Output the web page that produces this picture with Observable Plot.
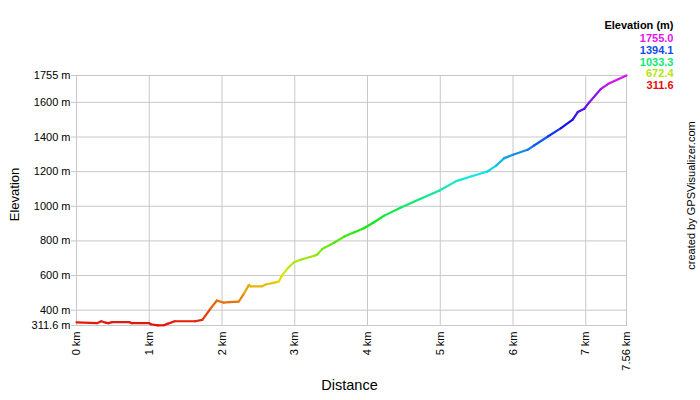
<!DOCTYPE html>
<html><head><meta charset="utf-8">
<script src="https://cdn.jsdelivr.net/npm/d3@7"></script>
<script src="https://cdn.jsdelivr.net/npm/@observablehq/plot@0.6"></script>
<style>body{margin:0;background:#fff}</style>
</head><body><div id="chart"></div>
<script>
const distanceKm = [0.00,0.28,0.34,0.41,0.44,0.49,0.73,0.76,1.00,1.02,1.12,1.20,1.25,1.35,1.63,1.73,1.84,1.93,1.96,2.02,2.10,2.23,2.30,2.37,2.39,2.55,2.61,2.71,2.78,2.83,2.91,2.99,3.08,3.27,3.31,3.38,3.54,3.68,3.82,3.95,4.09,4.23,4.46,4.73,4.99,5.22,5.42,5.65,5.77,5.88,6.00,6.20,6.29,6.48,6.66,6.82,6.89,6.98,7.05,7.21,7.31,7.56];
const elevationM = [330,325,336,327,325,331,331,325,325,319,312,313,321,336,336,344,408,456,452,444,446,450,494,546,538,538,550,558,566,604,645,677,691,714,722,754,789,825,850,873,908,946,993,1043,1091,1145,1172,1201,1235,1278,1297,1326,1351,1403,1451,1500,1544,1563,1601,1678,1707,1755];
const xTicks = [0,1,2,3,4,5,6,7,7.56];
const yTicks = [311.6,400,600,800,1000,1200,1400,1600,1755];
const legendTitle = "Elevation (m)";
const legendValues = [1755.0,1394.1,1033.3,672.4,311.6];
const xLabel = "Distance";
const yLabel = "Elevation";
const credit = "created by GPSVisualizer.com";

const segments = distanceKm.slice(1).map((d, i) => ({
  x1: distanceKm[i], y1: elevationM[i], x2: d, y2: elevationM[i + 1],
  e: (elevationM[i] + elevationM[i + 1]) / 2
}));

const font = "'Liberation Sans', Arial, sans-serif";
const grid = "#c8c8c8";

const plot = Plot.plot({
  width: 700, height: 400,
  marginLeft: 76, marginRight: 74, marginTop: 75, marginBottom: 75,
  style: {fontFamily: font, fontSize: "11px", color: "#000", background: "#fff"},
  x: {domain: [0, 7.56]},
  y: {domain: [311.6, 1755]},
  color: {type: "linear", domain: [311.6, 1755],
          interpolate: d3.interpolateHslLong("hsl(0,90%,47%)", "hsl(298,85%,50%)")},
  marks: [
    Plot.gridX(xTicks, {stroke: grid, strokeOpacity: 1}),
    Plot.gridY(yTicks, {stroke: grid, strokeOpacity: 1}),
    Plot.frame({stroke: grid}),
    Plot.axisY(yTicks, {tickFormat: d => d + " m", tickSize: 5, tickPadding: 1, stroke: grid, fill: "#000", label: null}),
    Plot.axisX(xTicks, {tickFormat: d => d + " km", tickRotate: -90, tickSize: 0, tickPadding: 6, fill: "#000", label: null}),
    Plot.link(segments, {x1: "x1", y1: "y1", x2: "x2", y2: "y2", stroke: "e", strokeWidth: 2.2, strokeLinecap: "round"}),
    Plot.text([xLabel], {text: d => d, frameAnchor: "bottom", dx: -2, dy: 64, fontSize: 14.5, fill: "#000"}),
    Plot.text([yLabel], {text: d => d, frameAnchor: "left", textAnchor: "middle", dx: -62, dy: -6, rotate: -90, fontSize: 13, fill: "#000"}),
    Plot.text([legendTitle], {text: d => d, frameAnchor: "top-right", dx: 47, dy: -54, textAnchor: "end", fontWeight: "bold", fontSize: 11, fill: "#000"}),
    ...legendValues.map((v, i) => Plot.text([v], {text: d => d.toFixed(1), fill: d => d, frameAnchor: "top-right", dx: 47, dy: -41 + i * 11.6, textAnchor: "end", fontWeight: "bold", fontSize: 11})),
    Plot.text([credit], {text: d => d, frameAnchor: "right", textAnchor: "middle", dx: 65, dy: -5, rotate: -90, fontSize: 11, fill: "#000"})
  ]
});
document.getElementById("chart").appendChild(plot);
</script>
</body></html>
